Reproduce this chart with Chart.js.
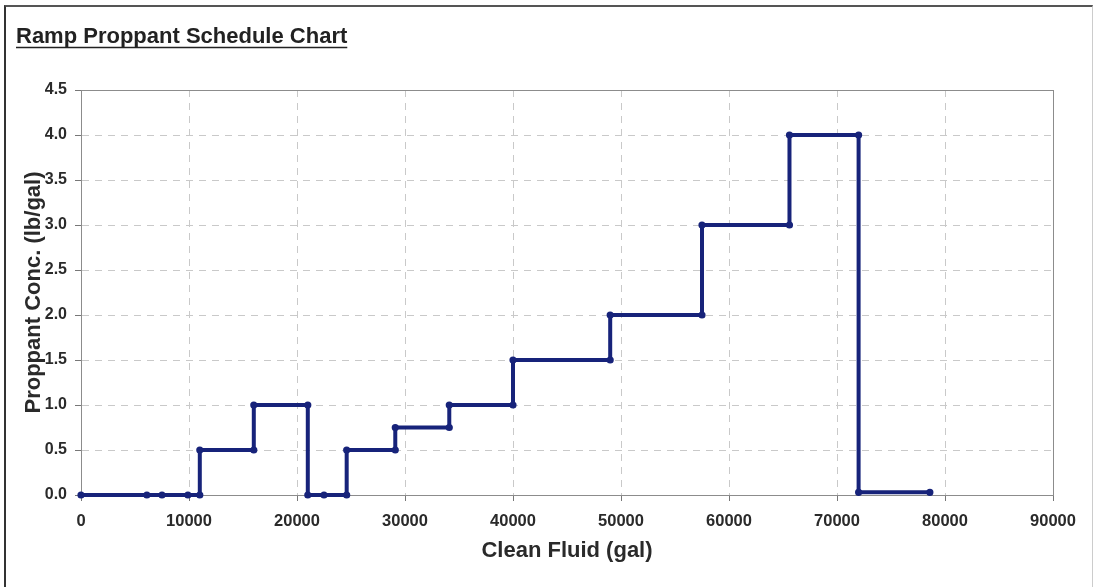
<!DOCTYPE html>
<html>
<head>
<meta charset="utf-8">
<script src="https://cdn.jsdelivr.net/npm/chart.js@4/dist/chart.umd.min.js"></script>
<style>
  html, body { margin: 0; padding: 0; background: #fff; }
  #wrap { position: relative; width: 1094px; height: 587px; overflow: hidden; }
  #frame { position: absolute; left: 4px; top: 5px; width: 1086px; height: 600px;
           border-left: 2px solid #333; border-top: 2px solid #555; border-right: 1px solid #ccc; }
  canvas { position: absolute; left: 0; top: 0; }
</style>
</head>
<body>
<div id="wrap">
  <canvas id="chart" width="1094" height="587"></canvas>
  <div id="frame"></div>
</div>
<script>
// Ramp proppant schedule - clean fluid (gal) vs proppant concentration (lb/gal)
const cleanFluid = [0, 6100, 7500, 9900, 11000, 11000, 16000, 16000, 21000, 21000, 22500, 24600, 24600,
    29100, 29100, 34100, 34100, 40000, 40000, 49000, 49000, 57500, 57500, 65600, 65600, 72000, 72000, 78600];
const proppantConc = [0, 0, 0, 0, 0, 0.5, 0.5, 1.0, 1.0, 0, 0, 0, 0.5,
    0.5, 0.75, 0.75, 1.0, 1.0, 1.5, 1.5, 2.0, 2.0, 3.0, 3.0, 4.0, 4.0, 0.03, 0.03];
const xTicks = [0, 10000, 20000, 30000, 40000, 50000, 60000, 70000, 80000, 90000];
const yTicks = [0, 0.5, 1.0, 1.5, 2.0, 2.5, 3.0, 3.5, 4.0, 4.5];

const chartTitle = 'Ramp Proppant Schedule Chart';
const fontFamily = '"Liberation Sans", Arial, sans-serif';
const lineColor = '#17237a';

const titlePlugin = {
    id: 'excelTitle',
    afterDraw(chart) {
        const ctx = chart.ctx;
        ctx.save();
        ctx.font = 'bold 22px ' + fontFamily;
        ctx.fillStyle = '#222';
        ctx.textBaseline = 'alphabetic';
        ctx.fillText(chartTitle, 16, 43);
        const w = ctx.measureText(chartTitle).width;
        ctx.strokeStyle = '#222';
        ctx.lineWidth = 1.5;
        ctx.beginPath();
        ctx.moveTo(16, 47.5);
        ctx.lineTo(16 + w, 47.5);
        ctx.stroke();
        ctx.restore();
    }
};

const plotBox = {
    id: 'plotBox',
    beforeDatasetsDraw(chart) {
        const a = chart.chartArea;
        const ctx = chart.ctx;
        ctx.save();
        ctx.strokeStyle = '#8c8c8c';
        ctx.lineWidth = 1;
        ctx.strokeRect(Math.round(a.left) + 0.5, Math.round(a.top) + 0.5,
            Math.round(a.right - a.left), Math.round(a.bottom - a.top));
        ctx.restore();
    }
};

const points = cleanFluid.map((x, i) => ({ x: x, y: proppantConc[i] }));

new Chart(document.getElementById('chart').getContext('2d'), {
    type: 'scatter',
    data: {
        datasets: [{
            data: points,
            showLine: true,
            borderColor: lineColor,
            backgroundColor: lineColor,
            borderWidth: 4,
            pointRadius: 1.6,
            pointHoverRadius: 1.6,
            clip: false
        }]
    },
    options: {
        responsive: false,
        animation: false,
        layout: { padding: { top: 90, right: 41, left: 0, bottom: 0 } },
        plugins: { legend: { display: false }, tooltip: { enabled: false } },
        scales: {
            x: {
                type: 'linear',
                min: 0,
                max: 90000,
                afterBuildTicks(scale) { scale.ticks = xTicks.map(v => ({ value: v })); },
                afterFit(scale) { scale.height = 92; },
                grid: { color: '#c9c9c9', tickLength: 6, tickColor: '#777' },
                border: { display: true, color: '#8c8c8c', dash: [7, 6] },
                ticks: {
                    maxRotation: 0,
                    padding: 11,
                    color: '#2a2a2a',
                    font: { family: fontFamily, size: 16.5, weight: 'bold' },
                    callback: v => String(v)
                },
                title: {
                    display: true,
                    text: 'Clean Fluid (gal)',
                    color: '#2a2a2a',
                    font: { family: fontFamily, size: 22, weight: 'bold' },
                    padding: { top: 0, bottom: 23 }
                }
            },
            y: {
                type: 'linear',
                min: 0,
                max: 4.5,
                afterBuildTicks(scale) { scale.ticks = yTicks.map(v => ({ value: v })); },
                afterFit(scale) { scale.width = 81; },
                grid: { color: '#c9c9c9', tickLength: 6, tickColor: '#777' },
                border: { display: true, color: '#8c8c8c', dash: [7, 6] },
                ticks: {
                    padding: 8,
                    color: '#2a2a2a',
                    font: { family: fontFamily, size: 16, weight: 'bold' },
                    callback: v => Number(v).toFixed(1)
                },
                title: {
                    display: true,
                    text: 'Proppant Conc. (lb/gal)',
                    color: '#2a2a2a',
                    font: { family: fontFamily, size: 22, weight: 'bold' },
                    padding: { top: 21, bottom: 0 }
                }
            }
        }
    },
    plugins: [titlePlugin, plotBox]
});
</script>
</body>
</html>
